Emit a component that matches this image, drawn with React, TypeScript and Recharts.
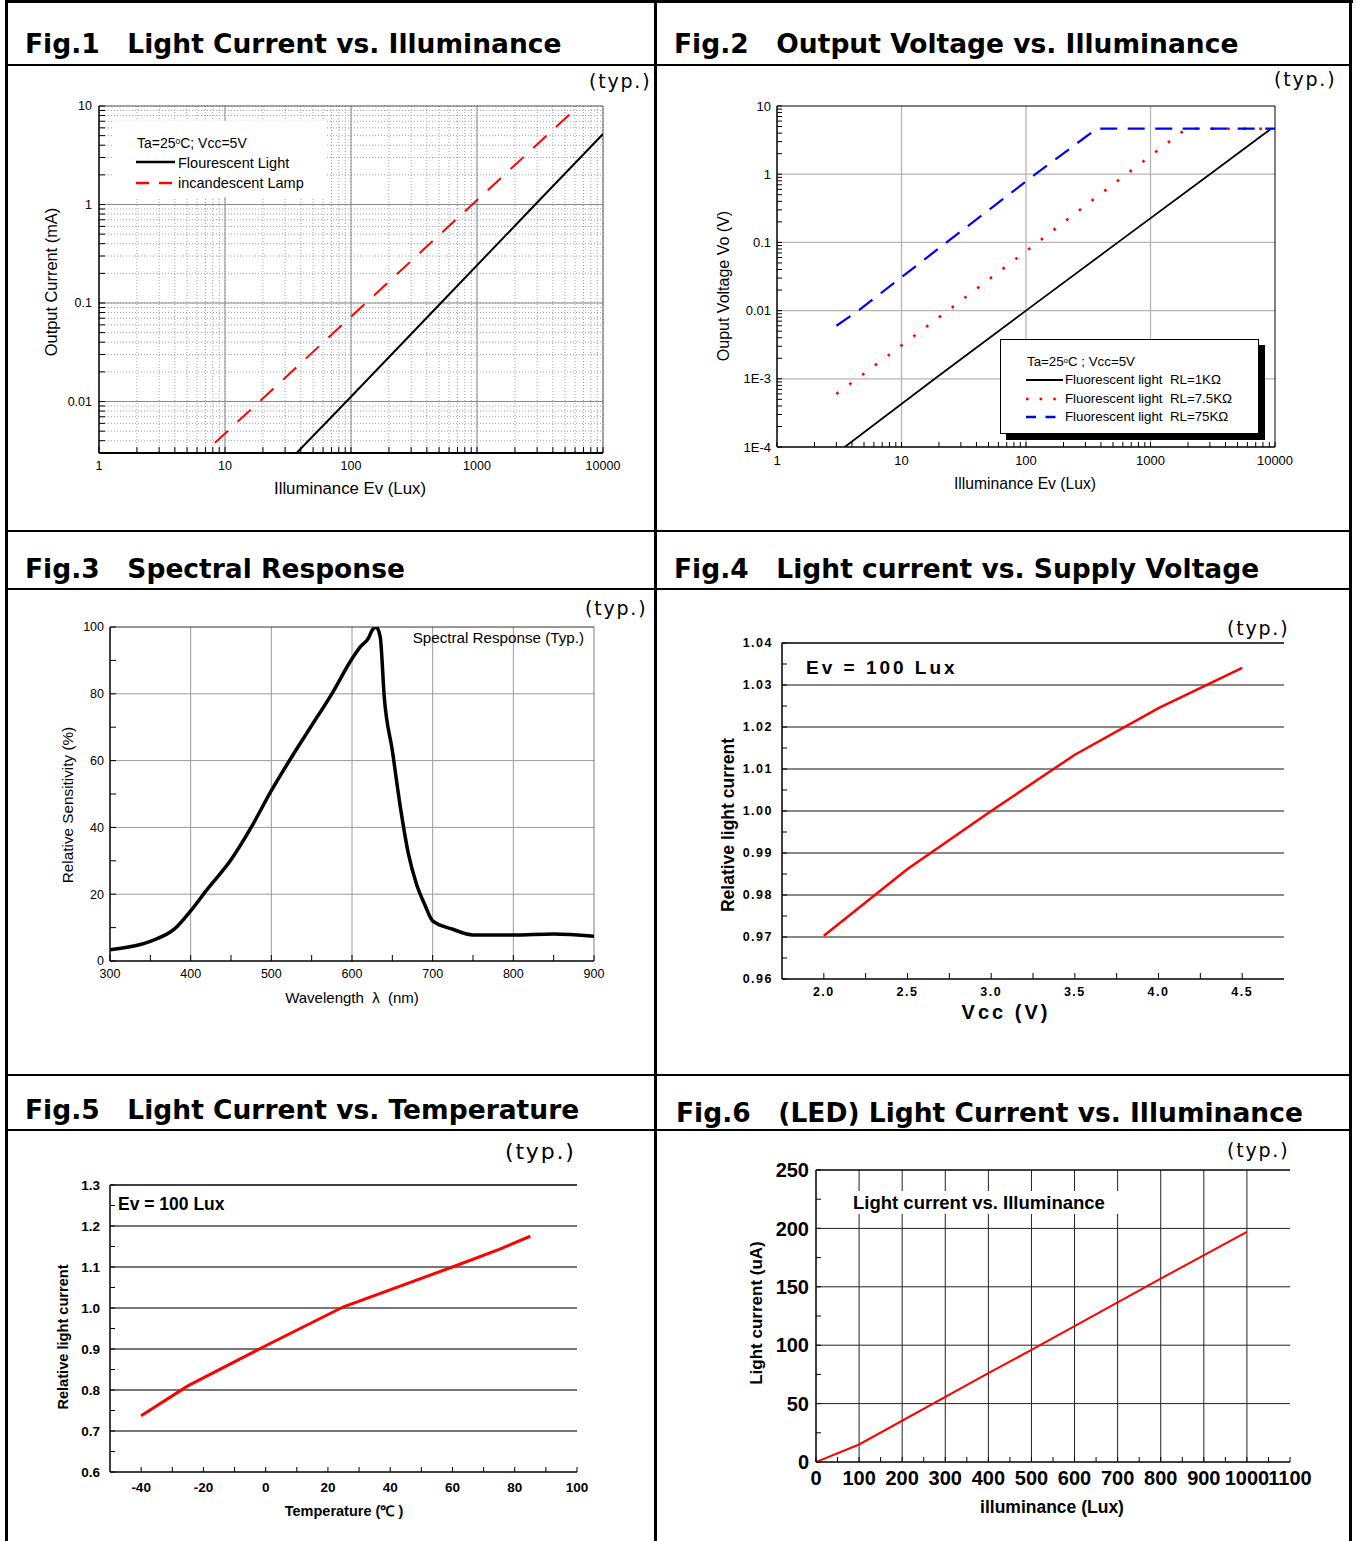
import React from "react";
import { LineChart, Line, XAxis, YAxis, CartesianGrid, ReferenceLine } from "recharts";

const SANS = "'Liberation Sans', Arial, Helvetica, sans-serif";
const VERD = "'DejaVu Sans', Verdana, sans-serif";

// ─── Fig.1 Light Current vs. Illuminance ─────────────────────────────────────
const F1_FLUO_LUX = [37, 92, 517, 2900, 10000];
const F1_FLUO_MA = [0.003, 0.01, 0.1, 1, 5.2];
const F1_INC_LUX = [8.3, 18.8, 131, 917, 5950];
const F1_INC_MA = [0.0038, 0.01, 0.1, 1, 9.15];
const F1_X_MAJOR = [1, 10, 100, 1000, 10000];
const F1_X_LABELS = ["1", "10", "100", "1000", "10000"];
const F1_Y_MAJOR = [0.01, 0.1, 1, 10];
const F1_Y_LABELS = ["0.01", "0.1", "1", "10"];

// ─── Fig.2 Output Voltage vs. Illuminance ────────────────────────────────────
const F2_1K_LUX = [3.5, 18.5, 100, 547, 3000, 9300];
const F2_1K_V = [0.0001, 0.001, 0.01, 0.1, 1, 4.65];
const F2_7K5_LUX = [3, 4.4, 23.6, 124, 640, 1940, 10000];
const F2_7K5_V = [0.0006, 0.001, 0.01, 0.1, 1, 4.65, 4.65];
const F2_75K_LUX = [3, 4.5, 23, 119, 370, 10000];
const F2_75K_V = [0.006, 0.01, 0.1, 1, 4.65, 4.65];
const F2_X_MAJOR = [1, 10, 100, 1000, 10000];
const F2_X_LABELS = ["1", "10", "100", "1000", "10000"];
const F2_Y_MAJOR = [0.0001, 0.001, 0.01, 0.1, 1, 10];
const F2_Y_LABELS = ["1E-4", "1E-3", "0.01", "0.1", "1", "10"];

// ─── Fig.3 Spectral Response ─────────────────────────────────────────────────
const F3_NM = [300, 350, 380, 400, 420, 450, 475, 500, 525, 550, 575, 600, 610, 620, 625, 630, 635, 640, 650, 660, 670, 680, 690, 700, 725, 750, 800, 850, 900];
const F3_PCT = [3.4, 5.9, 9.6, 15, 21.3, 30.3, 40, 51, 61, 70.5, 80, 90.5, 94, 96.5, 99, 100, 97, 79, 63, 46, 32, 23, 17, 12, 9.5, 7.8, 7.8, 8.1, 7.4];
const F3_X_MAJOR = [300, 400, 500, 600, 700, 800, 900];
const F3_X_MINOR = [350, 450, 550, 650, 750, 850];
const F3_Y_MAJOR = [0, 20, 40, 60, 80, 100];
const F3_Y_MINOR = [10, 30, 50, 70, 90];

// ─── Fig.4 Light current vs. Supply Voltage ──────────────────────────────────
const F4_VCC = [2.0, 2.5, 3.0, 3.5, 4.0, 4.5];
const F4_REL = [0.9703, 0.9862, 1.0, 1.0134, 1.0245, 1.0341];
const F4_X_MAJOR = [2.0, 2.5, 3.0, 3.5, 4.0, 4.5];
const F4_X_LABELS = ["2.0", "2.5", "3.0", "3.5", "4.0", "4.5"];
const F4_X_MINOR = [2.25, 2.75, 3.25, 3.75, 4.25];
const F4_Y_MAJOR = [0.96, 0.97, 0.98, 0.99, 1.0, 1.01, 1.02, 1.03, 1.04];
const F4_Y_LABELS = ["0.96", "0.97", "0.98", "0.99", "1.00", "1.01", "1.02", "1.03", "1.04"];
const F4_Y_MINOR = [0.965, 0.975, 0.985, 0.995, 1.005, 1.015, 1.025, 1.035];

// ─── Fig.5 Light Current vs. Temperature ─────────────────────────────────────
const F5_TEMP = [-40, -25, 0, 25, 60, 75, 85];
const F5_REL = [0.737, 0.81, 0.908, 1.003, 1.1, 1.143, 1.175];
const F5_X_MAJOR = [-40, -20, 0, 20, 40, 60, 80, 100];
const F5_X_MINOR = [-30, -10, 10, 30, 50, 70, 90];
const F5_Y_MAJOR = [0.6, 0.7, 0.8, 0.9, 1.0, 1.1, 1.2, 1.3];
const F5_Y_LABELS = ["0.6", "0.7", "0.8", "0.9", "1.0", "1.1", "1.2", "1.3"];
const F5_Y_MINOR = [0.65, 0.75, 0.85, 0.95, 1.05, 1.15, 1.25];

// ─── Fig.6 (LED) Light Current vs. Illuminance ───────────────────────────────
const F6_LUX = [0, 100, 400, 500, 800, 1000];
const F6_UA = [0, 15, 76, 96, 157, 197];
const F6_X_MAJOR = [0, 100, 200, 300, 400, 500, 600, 700, 800, 900, 1000, 1100];
const F6_X_MINOR = [50, 150, 250, 350, 450, 550, 650, 750, 850, 950, 1050];
const F6_Y_MAJOR = [0, 50, 100, 150, 200, 250];
const F6_Y_MINOR = [25, 75, 125, 175, 225];

// ─── helpers ─────────────────────────────────────────────────────────────────
const LOG_STEPS = [2, 3, 4, 5, 6, 7, 8, 9];
const logMinor = (decades: number[]) =>
  decades.flatMap((d) => LOG_STEPS.map((m) => Number((d * m).toPrecision(4))));
const zip = (xs: number[], ys: number[]) => xs.map((x, i) => ({ x, y: ys[i] }));
const str = (vs: number[]) => vs.map((v) => String(v));

const PAD = { l: 60, t: 10, r: 32, b: 50 };
const MARGIN = { top: PAD.t, right: PAD.r, left: 0, bottom: 0 };
type Rect = { x0: number; y0: number; x1: number; y1: number };
const boxStyle = (p: Rect): React.CSSProperties => ({ position: "absolute", left: p.x0 - PAD.l, top: p.y0 - PAD.t });
const cw = (p: Rect) => p.x1 - p.x0 + PAD.l + PAD.r;
const ch = (p: Rect) => p.y1 - p.y0 + PAD.t + PAD.b;

const P1: Rect = { x0: 99, y0: 106, x1: 603, y1: 453 };
const P2: Rect = { x0: 777, y0: 106, x1: 1275, y1: 447 };
const P3: Rect = { x0: 110, y0: 627, x1: 594, y1: 961 };
const P4: Rect = { x0: 782, y0: 643, x1: 1284, y1: 979 };
const P5: Rect = { x0: 110, y0: 1185, x1: 577, y1: 1472 };
const P6: Rect = { x0: 816, y0: 1170, x1: 1290, y1: 1462 };

const near = (a: number, b: number) => Math.abs(a - b) <= Math.abs(b) * 1e-6 + 1e-9;

function makeTick(values: number[], labels: string[], side: "bottom" | "left", style: React.CSSProperties) {
  return (p: any) => {
    const v = Number(p?.payload?.value);
    const i = values.findIndex((t) => near(v, t));
    if (i < 0) return <g />;
    return (
      <text x={p.x} y={p.y} dy="0.355em" textAnchor={side === "bottom" ? "middle" : "end"} style={{ fill: "#000", ...style }}>
        {labels[i]}
      </text>
    );
  };
}

type TxtProps = {
  x: number;
  y: number;
  size: number;
  children: React.ReactNode;
  bold?: boolean;
  font?: string;
  anchor?: "start" | "middle" | "end";
  ls?: number;
  rotate?: boolean;
};
function Txt({ x, y, size, children, bold, font = SANS, anchor = "start", ls, rotate }: TxtProps) {
  const tx = anchor === "middle" ? "-50%" : anchor === "end" ? "-100%" : "0";
  return (
    <div
      style={{
        position: "absolute",
        left: x,
        top: y,
        fontFamily: font,
        fontSize: size,
        fontWeight: bold ? 700 : 400,
        lineHeight: 1,
        whiteSpace: "pre",
        letterSpacing: ls,
        color: "#000",
        transform: rotate ? "translate(-50%,-50%) rotate(-90deg)" : `translate(${tx},-50%)`,
      }}
    >
      {children}
    </div>
  );
}

function Seg({ x, y, w, color, width, dash }: { x: number; y: number; w: number; color: string; width: number; dash?: string }) {
  return (
    <svg style={{ position: "absolute", left: x, top: y - 4 }} width={w} height={8}>
      <line x1={0} y1={4} x2={w} y2={4} stroke={color} strokeWidth={width} strokeDasharray={dash} />
    </svg>
  );
}

const Bar = ({ l, t, w, h, c = "#000" }: { l: number; t: number; w: number; h: number; c?: string }) => (
  <div style={{ position: "absolute", left: l, top: t, width: w, height: h, background: c }} />
);

// ─── charts ──────────────────────────────────────────────────────────────────
function Fig1() {
  const p = P1;
  const xt = [...F1_X_MAJOR, ...logMinor([1, 10, 100, 1000])];
  const yt = [...F1_Y_MAJOR, ...logMinor([0.001, 0.01, 0.1, 1]).filter((v) => v >= 0.003)];
  const ts = { fontFamily: SANS, fontSize: 12.5 };
  return (
    <div style={boxStyle(p)}>
      <LineChart width={cw(p)} height={ch(p)} margin={MARGIN}>
        <CartesianGrid stroke="#a0a0a0" strokeDasharray="1 2" />
        {F1_X_MAJOR.slice(1, -1).map((v) => (
          <ReferenceLine key={"vx" + v} x={v} stroke="#8a8a8a" />
        ))}
        {F1_Y_MAJOR.slice(0, -1).map((v) => (
          <ReferenceLine key={"hy" + v} y={v} stroke="#8a8a8a" />
        ))}
        <ReferenceLine x={10000} stroke="#555" ifOverflow="visible" />
        <ReferenceLine y={10} stroke="#555" ifOverflow="visible" />
        <XAxis type="number" dataKey="x" scale="log" domain={[1, 10000]} allowDataOverflow ticks={xt} interval={0}
          height={PAD.b} tickSize={-6} tickMargin={6 + 13} tick={makeTick(F1_X_MAJOR, F1_X_LABELS, "bottom", ts)}
          tickLine={{ stroke: "#000" }} axisLine={{ stroke: "#000", strokeWidth: 2 }} />
        <YAxis type="number" dataKey="y" scale="log" domain={[0.003, 10]} allowDataOverflow ticks={yt} interval={0}
          width={PAD.l} tickSize={-6} tickMargin={6 + 7} tick={makeTick(F1_Y_MAJOR, F1_Y_LABELS, "left", ts)}
          tickLine={{ stroke: "#000" }} axisLine={{ stroke: "#000", strokeWidth: 1.5 }} />
        <Line data={zip(F1_INC_LUX, F1_INC_MA)} dataKey="y" type="linear" stroke="#ff0000" strokeWidth={2}
          strokeDasharray="18 13" dot={false} isAnimationActive={false} />
        <Line data={zip(F1_FLUO_LUX, F1_FLUO_MA)} dataKey="y" type="linear" stroke="#000" strokeWidth={2}
          dot={false} isAnimationActive={false} />
      </LineChart>
    </div>
  );
}

function Fig2() {
  const p = P2;
  const xt = [...F2_X_MAJOR, ...logMinor([1, 10, 100, 1000])];
  const yt = [...F2_Y_MAJOR, ...logMinor([0.0001, 0.001, 0.01, 0.1, 1])];
  const ts = { fontFamily: SANS, fontSize: 13 };
  return (
    <div style={boxStyle(p)}>
      <LineChart width={cw(p)} height={ch(p)} margin={MARGIN}>
        {F2_X_MAJOR.slice(1, -1).map((v) => (
          <ReferenceLine key={"vx" + v} x={v} stroke="#b5b5b5" strokeWidth={1.3} />
        ))}
        {F2_Y_MAJOR.slice(1, -1).map((v) => (
          <ReferenceLine key={"hy" + v} y={v} stroke="#b5b5b5" strokeWidth={1.3} />
        ))}
        <ReferenceLine x={10000} stroke="#000" ifOverflow="visible" />
        <ReferenceLine y={10} stroke="#000" ifOverflow="visible" />
        <XAxis type="number" dataKey="x" scale="log" domain={[1, 10000]} allowDataOverflow ticks={xt} interval={0}
          height={PAD.b} tickSize={-5} tickMargin={5 + 13} tick={makeTick(F2_X_MAJOR, F2_X_LABELS, "bottom", ts)}
          tickLine={{ stroke: "#000" }} axisLine={{ stroke: "#000", strokeWidth: 1.5 }} />
        <YAxis type="number" dataKey="y" scale="log" domain={[0.0001, 10]} allowDataOverflow ticks={yt} interval={0}
          width={PAD.l} tickSize={-5} tickMargin={5 + 6} tick={makeTick(F2_Y_MAJOR, F2_Y_LABELS, "left", ts)}
          tickLine={{ stroke: "#000" }} axisLine={{ stroke: "#000", strokeWidth: 1.5 }} />
        <Line data={zip(F2_1K_LUX, F2_1K_V)} dataKey="y" type="linear" stroke="#000" strokeWidth={1.8}
          dot={false} isAnimationActive={false} />
        <Line data={zip(F2_7K5_LUX, F2_7K5_V)} dataKey="y" type="linear" stroke="#ff0000" strokeWidth={2.6}
          strokeDasharray="2.6 13.4" dot={false} isAnimationActive={false} />
        <Line data={zip(F2_75K_LUX, F2_75K_V)} dataKey="y" type="linear" stroke="#0000ff" strokeWidth={2.2}
          strokeDasharray="17 10.5" dot={false} isAnimationActive={false} />
      </LineChart>
    </div>
  );
}

function Fig3() {
  const p = P3;
  const ts = { fontFamily: SANS, fontSize: 12.5 };
  return (
    <div style={boxStyle(p)}>
      <LineChart width={cw(p)} height={ch(p)} margin={MARGIN}>
        {F3_X_MAJOR.slice(1, -1).map((v) => (
          <ReferenceLine key={"vx" + v} x={v} stroke="#9a9a9a" />
        ))}
        {F3_Y_MAJOR.slice(1, -1).map((v) => (
          <ReferenceLine key={"hy" + v} y={v} stroke="#9a9a9a" />
        ))}
        <ReferenceLine x={900} stroke="#808080" ifOverflow="visible" />
        <ReferenceLine y={100} stroke="#333" ifOverflow="visible" />
        <XAxis type="number" dataKey="x" domain={[300, 900]} allowDataOverflow ticks={[...F3_X_MAJOR, ...F3_X_MINOR]} interval={0}
          height={PAD.b} tickSize={-6} tickMargin={6 + 13} tick={makeTick(F3_X_MAJOR, str(F3_X_MAJOR), "bottom", ts)}
          tickLine={{ stroke: "#000" }} axisLine={{ stroke: "#000", strokeWidth: 1.5 }} />
        <YAxis type="number" dataKey="y" domain={[0, 100]} allowDataOverflow ticks={[...F3_Y_MAJOR, ...F3_Y_MINOR]} interval={0}
          width={PAD.l} tickSize={-6} tickMargin={6 + 6} tick={makeTick(F3_Y_MAJOR, str(F3_Y_MAJOR), "left", ts)}
          tickLine={{ stroke: "#000" }} axisLine={{ stroke: "#000", strokeWidth: 1.5 }} />
        <Line data={zip(F3_NM, F3_PCT)} dataKey="y" type="monotone" stroke="#000" strokeWidth={3.5}
          strokeLinejoin="round" dot={false} isAnimationActive={false} />
      </LineChart>
    </div>
  );
}

function Fig4() {
  const p = P4;
  const ts = { fontFamily: SANS, fontSize: 12.5, fontWeight: 700, letterSpacing: 1.5 };
  const yt = [...F4_Y_MAJOR, ...F4_Y_MINOR];
  return (
    <div style={boxStyle(p)}>
      <LineChart width={cw(p)} height={ch(p)} margin={MARGIN}>
        {F4_Y_MAJOR.slice(1, -1).map((v) => (
          <ReferenceLine key={"hy" + v} y={v} stroke="#111" />
        ))}
        <ReferenceLine y={1.04} stroke="#000" strokeWidth={1.5} ifOverflow="visible" />
        <XAxis type="number" dataKey="x" domain={[1.75, 4.75]} allowDataOverflow ticks={[...F4_X_MAJOR, ...F4_X_MINOR]} interval={0}
          height={PAD.b} tickSize={-6} tickMargin={6 + 13} tick={makeTick(F4_X_MAJOR, F4_X_LABELS, "bottom", ts)}
          tickLine={{ stroke: "#000" }} axisLine={{ stroke: "#000", strokeWidth: 1.5 }} />
        <YAxis type="number" dataKey="y" domain={[0.96, 1.04]} allowDataOverflow ticks={yt} interval={0}
          width={PAD.l} tickSize={-5} tickMargin={5 + 9} tick={makeTick(F4_Y_MAJOR, F4_Y_LABELS, "left", ts)}
          tickLine={{ stroke: "#000" }} axisLine={{ stroke: "#000", strokeWidth: 1.5 }} />
        <YAxis yAxisId="r" orientation="right" type="number" domain={[0.96, 1.04]} allowDataOverflow ticks={yt} interval={0}
          width={0} tickSize={-5} tick={false} tickLine={{ stroke: "#000" }} axisLine={{ stroke: "#000", strokeWidth: 1.5 }} />
        <Line data={zip(F4_VCC, F4_REL)} dataKey="y" type="linear" stroke="#ff0000" strokeWidth={2.5}
          dot={false} isAnimationActive={false} />
      </LineChart>
    </div>
  );
}

function Fig5() {
  const p = P5;
  const ts = { fontFamily: SANS, fontSize: 13.5, fontWeight: 700 };
  const yt = [...F5_Y_MAJOR, ...F5_Y_MINOR];
  return (
    <div style={boxStyle(p)}>
      <LineChart width={cw(p)} height={ch(p)} margin={MARGIN}>
        {F5_Y_MAJOR.slice(1, -1).map((v) => (
          <ReferenceLine key={"hy" + v} y={v} stroke="#4a4a4a" strokeWidth={1.4} />
        ))}
        <ReferenceLine y={1.3} stroke="#000" strokeWidth={1.5} ifOverflow="visible" />
        <XAxis type="number" dataKey="x" domain={[-50, 100]} allowDataOverflow ticks={[...F5_X_MAJOR, ...F5_X_MINOR]} interval={0}
          height={PAD.b} tickSize={-5} tickMargin={5 + 15} tick={makeTick(F5_X_MAJOR, str(F5_X_MAJOR), "bottom", ts)}
          tickLine={{ stroke: "#000" }} axisLine={{ stroke: "#000", strokeWidth: 1.5 }} />
        <YAxis type="number" dataKey="y" domain={[0.6, 1.3]} allowDataOverflow ticks={yt} interval={0}
          width={PAD.l} tickSize={-5} tickMargin={5 + 10} tick={makeTick(F5_Y_MAJOR, F5_Y_LABELS, "left", ts)}
          tickLine={{ stroke: "#000" }} axisLine={{ stroke: "#000", strokeWidth: 1.5 }} />
        <YAxis yAxisId="r" orientation="right" type="number" domain={[0.6, 1.3]} allowDataOverflow ticks={yt} interval={0}
          width={0} tickSize={-5} tick={false} tickLine={{ stroke: "#000" }} axisLine={{ stroke: "#000", strokeWidth: 1.5 }} />
        <Line data={zip(F5_TEMP, F5_REL)} dataKey="y" type="linear" stroke="#ff0000" strokeWidth={3}
          dot={false} isAnimationActive={false} />
      </LineChart>
    </div>
  );
}

function Fig6() {
  const p = P6;
  const ts = { fontFamily: SANS, fontSize: 20, fontWeight: 700 };
  const yt = [...F6_Y_MAJOR, ...F6_Y_MINOR];
  return (
    <div style={boxStyle(p)}>
      <LineChart width={cw(p)} height={ch(p)} margin={MARGIN}>
        {F6_X_MAJOR.slice(1, -1).map((v) => (
          <ReferenceLine key={"vx" + v} x={v} stroke="#222" />
        ))}
        {F6_Y_MAJOR.slice(1, -1).map((v) => (
          <ReferenceLine key={"hy" + v} y={v} stroke="#222" />
        ))}
        <ReferenceLine y={250} stroke="#000" strokeWidth={1.5} ifOverflow="visible" />
        <XAxis type="number" dataKey="x" domain={[0, 1100]} allowDataOverflow ticks={[...F6_X_MAJOR, ...F6_X_MINOR]} interval={0}
          height={PAD.b} tickSize={-5} tickMargin={5 + 16} tick={makeTick(F6_X_MAJOR, str(F6_X_MAJOR), "bottom", ts)}
          tickLine={{ stroke: "#000" }} axisLine={{ stroke: "#000", strokeWidth: 1.5 }} />
        <YAxis type="number" dataKey="y" domain={[0, 250]} allowDataOverflow ticks={yt} interval={0}
          width={PAD.l} tickSize={-5} tickMargin={5 + 7} tick={makeTick(F6_Y_MAJOR, str(F6_Y_MAJOR), "left", ts)}
          tickLine={{ stroke: "#000" }} axisLine={{ stroke: "#000", strokeWidth: 1.5 }} />
        <YAxis yAxisId="r" orientation="right" type="number" domain={[0, 250]} allowDataOverflow ticks={yt} interval={0}
          width={0} tickSize={-5} tick={false} tickLine={{ stroke: "#000" }} axisLine={{ stroke: "#000", strokeWidth: 1.5 }} />
        <Line data={zip(F6_LUX, F6_UA)} dataKey="y" type="linear" stroke="#ff0000" strokeWidth={2}
          dot={false} isAnimationActive={false} />
      </LineChart>
    </div>
  );
}

const Deg = () => <sup style={{ fontSize: "0.6em", verticalAlign: "0.45em", lineHeight: 0 }}>o</sup>;

export default function App() {
  return (
    <div style={{ position: "absolute", left: 0, top: 0, width: 1356, height: 1541, background: "#fff", overflow: "hidden" }}>
      {/* table frame */}
      <Bar l={5} t={0} w={1348} h={3} />
      <Bar l={5} t={0} w={3} h={1541} />
      <Bar l={1349} t={0} w={3} h={1541} />
      <Bar l={654} t={0} w={2.5} h={1541} />
      <Bar l={5} t={64} w={1347} h={2} />
      <Bar l={5} t={530} w={1347} h={2} />
      <Bar l={5} t={588} w={1347} h={2} />
      <Bar l={5} t={1074} w={1347} h={2} />
      <Bar l={5} t={1129} w={1347} h={2} />

      {/* figure titles */}
      <Txt x={25} y={44} size={26.5} bold font={VERD}>{"Fig.1   Light Current vs. Illuminance"}</Txt>
      <Txt x={674} y={44} size={26.5} bold font={VERD}>{"Fig.2   Output Voltage vs. Illuminance"}</Txt>
      <Txt x={25} y={569} size={26.5} bold font={VERD}>{"Fig.3   Spectral Response"}</Txt>
      <Txt x={674} y={569} size={26.5} bold font={VERD}>{"Fig.4   Light current vs. Supply Voltage"}</Txt>
      <Txt x={25} y={1110} size={26.5} bold font={VERD}>{"Fig.5   Light Current vs. Temperature"}</Txt>
      <Txt x={676} y={1113} size={26.5} bold font={VERD}>{"Fig.6   (LED) Light Current vs. Illuminance"}</Txt>

      {/* (typ.) */}
      <Txt x={589} y={81} size={19} font={VERD} ls={1.8}>(typ.)</Txt>
      <Txt x={1274} y={79} size={19} font={VERD} ls={1.8}>(typ.)</Txt>
      <Txt x={585} y={608} size={19} font={VERD} ls={1.8}>(typ.)</Txt>
      <Txt x={1227} y={628} size={19} font={VERD} ls={1.8}>(typ.)</Txt>
      <Txt x={505} y={1152} size={22} font={VERD} ls={1.8}>(typ.)</Txt>
      <Txt x={1227} y={1150} size={19} font={VERD} ls={1.8}>(typ.)</Txt>

      <Fig1 />
      <Fig2 />
      <Fig3 />
      <Fig4 />
      <Fig5 />
      <Fig6 />

      {/* Fig.1 annotations */}
      <Bar l={113} t={121} w={212} h={76} c="#fff" />
      <Txt x={137} y={143} size={14}>Ta=25<Deg />C; Vcc=5V</Txt>
      <Seg x={136} y={162} w={39} color="#000" width={2.5} />
      <Txt x={178} y={163} size={14.5}>Flourescent Light</Txt>
      <Seg x={136} y={183} w={37} color="#ff0000" width={2.5} dash="13 10" />
      <Txt x={178} y={183} size={14.5}>incandescent Lamp</Txt>
      <Txt x={350} y={489} size={16.8} anchor="middle">Illuminance Ev (Lux)</Txt>
      <Txt x={51} y={282} size={16.4} rotate>Output Current (mA)</Txt>

      {/* Fig.2 annotations */}
      <div style={{ position: "absolute", left: 1000, top: 339, width: 259, height: 95, boxSizing: "border-box", border: "1px solid #000", background: "#fff", boxShadow: "6px 6px 0 #000" }} />
      <Txt x={1027} y={362} size={13.3}>Ta=25<Deg />C ; Vcc=5V</Txt>
      <Seg x={1026} y={380} w={37} color="#000" width={2} />
      <Txt x={1065} y={380} size={13.3}>{"Fluorescent light  RL=1KΩ"}</Txt>
      <Seg x={1026} y={399} w={30} color="#ff0000" width={2.6} dash="2.6 11" />
      <Txt x={1065} y={399} size={13.3}>{"Fluorescent light  RL=7.5KΩ"}</Txt>
      <Seg x={1026} y={417} w={34} color="#0000ff" width={2.5} dash="10 9.5" />
      <Txt x={1065} y={417} size={13.3}>{"Fluorescent light  RL=75KΩ"}</Txt>
      <Txt x={1025} y={484} size={15.7} anchor="middle">Illuminance Ev (Lux)</Txt>
      <Txt x={724} y={286} size={16} rotate>Ouput Voltage Vo (V)</Txt>

      {/* Fig.3 annotations */}
      <Txt x={584} y={638} size={15.2} anchor="end">Spectral Response (Typ.)</Txt>
      <Txt x={352} y={997} size={15} anchor="middle">{"Wavelength  λ  (nm)"}</Txt>
      <Txt x={68} y={805} size={15.3} rotate>Relative Sensitivity (%)</Txt>

      {/* Fig.4 annotations */}
      <Txt x={806} y={667} size={19} bold ls={3}>Ev = 100 Lux</Txt>
      <Txt x={1006} y={1012} size={20} bold ls={3} anchor="middle">Vcc (V)</Txt>
      <Txt x={729} y={825} size={17.5} bold rotate>Relative light current</Txt>

      {/* Fig.5 annotations */}
      <Txt x={118} y={1205} size={17.5} bold>Ev = 100 Lux</Txt>
      <Txt x={344} y={1511} size={14.5} bold anchor="middle">Temperature (℃ )</Txt>
      <Txt x={63} y={1337} size={14.6} bold rotate>Relative light current</Txt>

      {/* Fig.6 annotations */}
      <Bar l={849} t={1191} w={276} h={23} c="#fff" />
      <Txt x={853} y={1203} size={18.5} bold>Light current vs. Illuminance</Txt>
      <Txt x={1052} y={1508} size={17.5} bold anchor="middle">illuminance (Lux)</Txt>
      <Txt x={756} y={1313} size={17} bold rotate>Light current (uA)</Txt>
    </div>
  );
}
